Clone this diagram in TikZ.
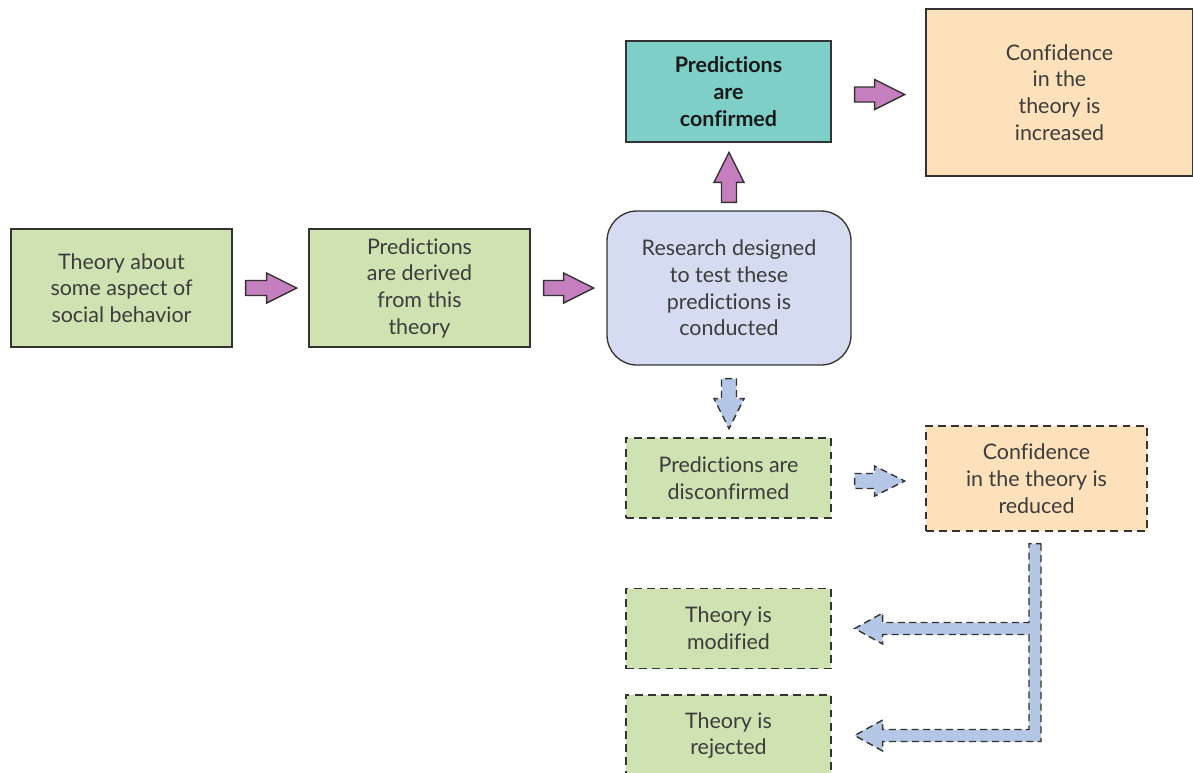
\documentclass[tikz,border=0pt]{standalone}
\usepackage{fontspec}
\setmainfont{Lato}[Ligatures={NoCommon}]
\usetikzlibrary{calc}
\definecolor{boxgreen}{RGB}{207,227,178}
\definecolor{boxteal}{RGB}{127,207,201}
\definecolor{boxorange}{RGB}{253,225,187}
\definecolor{boxlav}{RGB}{213,220,241}
\definecolor{arrpurple}{RGB}{198,127,190}
\definecolor{arrblue}{RGB}{180,199,231}
\definecolor{edgegray}{RGB}{51,51,51}
\definecolor{txtgray}{RGB}{60,60,60}
\tikzset{
  x=0.02cm, y=-0.02cm,
  every node/.style={font=\fontsize{12.2}{15.2}\selectfont, text=txtgray, align=center, inner sep=0pt},
  boxsolid/.style={draw=edgegray, line width=0.75pt},
  boxdashed/.style={draw=edgegray, line width=0.75pt, dash pattern=on 4.5pt off 3pt},
  parrow/.style={fill=arrpurple, draw=edgegray, line width=0.8pt, line join=miter},
  barrow/.style={fill=arrblue, draw=edgegray, line width=0.8pt, dash pattern=on 4pt off 2.5pt},
  pics/blk/.style={code={\path[pic actions] (0,-7.5) -- (#1-30,-7.5) -- (#1-30,-15) -- (#1,0) -- (#1-30,15) -- (#1-30,7.5) -- (0,7.5) -- cycle;}}
}
\begin{document}
\begin{tikzpicture}
\useasboundingbox (0,0) rectangle (1193,772);
% boxes
\node[boxsolid, fill=boxgreen, minimum width=221*0.02cm, minimum height=118*0.02cm] (theory) at (121.5,288) {Theory about\\some aspect of\\social behavior};
\node[boxsolid, fill=boxgreen, minimum width=221*0.02cm, minimum height=118*0.02cm] (derived) at (419.5,288) {Predictions\\are derived\\from this\\theory};
\node[boxsolid, fill=boxlav, rounded corners=0.6cm, minimum width=244*0.02cm, minimum height=154*0.02cm] (research) at (729,288) {Research designed\\to test these\\predictions is\\conducted};
\node[boxsolid, fill=boxteal, minimum width=205*0.02cm, minimum height=101*0.02cm, font=\fontsize{12.2}{15.2}\selectfont\bfseries, text=black!90] (confirmed) at (728.5,91.5) {Predictions\\are\\confirmed};
\node[boxsolid, fill=boxorange, minimum width=267*0.02cm, minimum height=167*0.02cm] (increased) at (1059.5,92.5) {Confidence\\in the\\theory is\\increased};
\node[boxdashed, fill=boxgreen, minimum width=205*0.02cm, minimum height=80*0.02cm] (disconf) at (728.5,478) {Predictions are\\disconfirmed};
\node[boxdashed, fill=boxorange, minimum width=221*0.02cm, minimum height=105*0.02cm] (reduced) at (1036.5,478.5) {Confidence\\in the theory is\\reduced};
\node[boxdashed, fill=boxgreen, minimum width=205*0.02cm, minimum height=80*0.02cm] (modified) at (728.5,628.5) {Theory is\\modified};
\node[boxdashed, fill=boxgreen, minimum width=205*0.02cm, minimum height=81*0.02cm] (rejected) at (728.5,735.5) {Theory is\\rejected};
% purple arrows
\pic[parrow] at ($(theory.east)+(13,0)$) {blk=51};
\pic[parrow] at ($(derived.east)+(13,0)$) {blk=50};
\pic[parrow, rotate=90] at ($(research.north)+(0,-8)$) {blk=50};
\pic[parrow] at ($(confirmed.east)+(23,3)$) {blk=50};
% blue arrows
\pic[barrow, rotate=-90] at ($(research.south)+(0,13)$) {blk=50};
\pic[barrow] at ($(disconf.east)+(23,3)$) {blk=50};
% L-shaped arrow
\coordinate (s) at ($(reduced.south)+(-1.5,12)$);
\coordinate (t1) at ($(modified.east)+(23,0)$);
\coordinate (t2) at ($(rejected.east)+(23,0)$);
\coordinate (sr) at ($(s)+(6,0)$);
\coordinate (sl) at ($(s)+(-6,0)$);
\coordinate (t1U) at ($(t1)+(0,-6)$);
\coordinate (t1D) at ($(t1)+(0,6)$);
\coordinate (t2U) at ($(t2)+(0,-6)$);
\coordinate (t2D) at ($(t2)+(0,6)$);
\coordinate (h1) at ($(t1)+(28,0)$);
\coordinate (h2) at ($(t2)+(28,0)$);
\draw[barrow] (sr) -- (sr |- t2D) -- (h2 |- t2D) -- ($(h2)+(0,15.5)$) -- (t2) -- ($(h2)+(0,-15.5)$) -- (h2 |- t2U) -- (sl |- t2U) -- (sl |- t1D) -- (h1 |- t1D) -- ($(h1)+(0,15.5)$) -- (t1) -- ($(h1)+(0,-15.5)$) -- (h1 |- t1U) -- (sl |- t1U) -- (sl) -- cycle;
\end{tikzpicture}
\end{document}
